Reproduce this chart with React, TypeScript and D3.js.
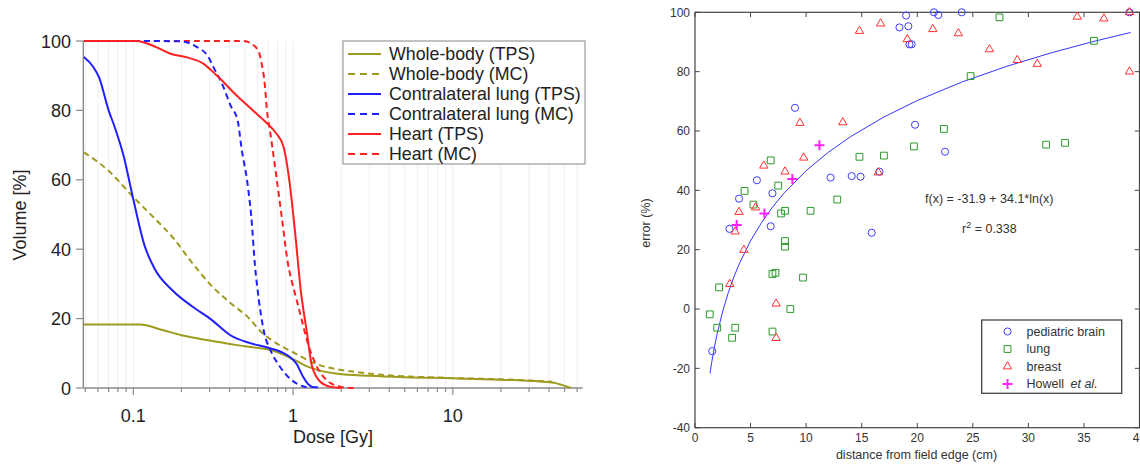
import React from 'react';
import * as d3 from 'd3';

// ---------- Left panel: dose-volume histograms (dose Gy, volume %) ----------
const wholeBodyTPS: [number, number][] = [
  [0.049, 18.3], [0.11, 18.3], [0.15, 16.8], [0.2, 15.2], [0.3, 13.7], [0.5, 12.0], [0.75, 10.7],
  [0.9, 9.3], [1.05, 7.8], [1.2, 6.4], [1.4, 5.3], [1.9, 4.1], [3, 3.5], [5, 3.1], [10, 2.8],
  [20, 2.4], [35, 1.9], [43, 1.5], [48, 0.9], [55, 0],
];
const wholeBodyMC: [number, number][] = [
  [0.049, 67.9], [0.07, 62.6], [0.1, 55], [0.135, 49], [0.178, 43.2], [0.234, 36], [0.308, 29.5],
  [0.405, 24.5], [0.532, 20], [0.62, 16.5], [0.75, 13.5], [1.0, 10.3], [1.4, 6.9], [2.0, 5.2],
  [2.5, 4.6], [3.6, 3.8], [8, 3.0], [20, 2.5], [42, 1.8],
];
const lungTPS: [number, number][] = [
  [0.049, 95.4], [0.056, 92.6], [0.061, 89.5], [0.07, 80], [0.076, 75.5], [0.087, 66.8], [0.1, 54.3],
  [0.118, 40.8], [0.135, 34.6], [0.178, 27.9], [0.234, 23.5], [0.308, 19.7], [0.405, 15.2],
  [0.532, 13], [0.7, 11.6], [0.85, 10.3], [0.95, 9], [1.05, 7], [1.15, 3.4], [1.25, 1], [1.32, 0.3], [1.43, 0.2],
];
const lungMC: [number, number][] = [
  [0.049, 100], [0.113, 100], [0.196, 99.9], [0.249, 98.3], [0.294, 95.5], [0.316, 92.6], [0.366, 86.8],
  [0.405, 81.5], [0.45, 77], [0.477, 68.7], [0.518, 59], [0.547, 49.5], [0.578, 35], [0.61, 25.5],
  [0.66, 15.8], [0.72, 11], [0.825, 6.2], [0.973, 2.4], [1.15, 0.5], [1.28, 0],
];
const heartTPS: [number, number][] = [
  [0.049, 100], [0.104, 100], [0.135, 98.5], [0.169, 96.4], [0.22, 95.2], [0.274, 93.5], [0.332, 90.1],
  [0.45, 84], [0.56, 80], [0.7, 75.9], [0.78, 73.5], [0.87, 69.6], [0.946, 60], [1.03, 44.7],
  [1.116, 28.3], [1.22, 16], [1.31, 6.5], [1.48, 1.8], [1.7, 0.4], [2.02, 0],
];
const heartMC: [number, number][] = [
  [0.049, 100], [0.49, 100], [0.592, 97.9], [0.636, 93.5], [0.667, 86.8], [0.684, 80.6], [0.72, 73.5],
  [0.78, 62], [0.848, 49.5], [0.92, 37], [1.03, 27], [1.1, 22], [1.22, 13.8], [1.41, 6.1],
  [1.62, 2.3], [2.0, 0.3], [2.45, 0],
];
const dvhLegend = [
  'Whole-body (TPS)', 'Whole-body (MC)', 'Contralateral lung (TPS)',
  'Contralateral lung (MC)', 'Heart (TPS)', 'Heart (MC)',
];
const doseTicks = [0.1, 1, 10];
const doseTickLabels = ['0.1', '1', '10'];
const volumeTicks = [0, 20, 40, 60, 80, 100];

// ---------- Right panel: error vs distance from field edge ----------
const brainPts: [number, number][] = [
  [1.55, -14.2], [3.1, 27], [3.96, 37.2], [5.57, 43.4], [6.81, 27.9], [6.97, 39], [9.0, 67.8],
  [12.2, 44.3], [14.1, 44.8], [14.9, 44.6], [15.9, 25.7], [16.6, 46.3], [18.4, 94.9], [19.0, 98.9],
  [19.2, 95.3], [19.3, 89.2], [19.5, 89.2], [19.8, 62.1], [21.5, 100], [21.9, 99.1], [22.5, 53],
  [24.0, 100], [39.1, 100],
];
const lungPts: [number, number][] = [
  [1.33, -1.8], [2.17, 7.3], [2.0, -6.3], [3.34, -9.7], [3.62, -6.3], [4.46, 39.8], [5.26, 35.2],
  [6.81, 50.1], [6.97, 11.8], [7.24, 12.2], [6.97, -7.6], [7.49, 41.6], [7.74, 32.2], [8.1, 33.1],
  [8.1, 22.9], [8.1, 21.0], [8.58, 0], [9.72, 10.6], [10.4, 33.1], [12.8, 36.9], [14.8, 51.3],
  [17.0, 51.7], [19.7, 54.8], [22.4, 60.7], [24.8, 78.5], [27.4, 98.3], [31.6, 55.4], [33.3, 56],
  [35.9, 90.4],
];
const breastPts: [number, number][] = [
  [3.13, 8.4], [3.62, 26.1], [3.96, 32.7], [4.4, 19.9], [5.45, 34.2], [6.19, 48.3], [7.3, 1.8],
  [7.3, -9.8], [8.1, 46.3], [9.44, 62.7], [9.78, 51], [13.3, 62.9], [14.8, 93.7], [16.5, 46],
  [16.7, 96.2], [19.1, 90.9], [21.4, 94.3], [23.7, 92.9], [26.5, 87.5], [29.0, 83.9], [30.8, 82.6],
  [34.4, 98.5], [36.8, 97.9], [39.1, 100], [39.1, 80],
];
const howellPts: [number, number][] = [
  [3.75, 28.3], [6.25, 32.2], [8.76, 43.8], [11.2, 55.2],
];
const fitIntercept = -31.9;
const fitSlope = 34.1;
const fitDistances = [1.35, 1.5, 1.75, 2, 2.5, 3, 3.5, 4, 5, 6, 7, 8, 10, 12, 14, 17, 20, 24, 28, 32, 36, 39.2];
const distanceTicks = [0, 5, 10, 15, 20, 25, 30, 35, 40];
const errorTicks = [-40, -20, 0, 20, 40, 60, 80, 100];
const scatterLegend = ['pediatric brain', 'lung', 'breast'];

const FONT = 'Liberation Sans, Arial, Helvetica, sans-serif';
const OLIVE = '#9e9b1e';
const BLUE = '#2020ff';
const RED = '#ff2020';

export default function App() {
  // left scales
  const xL = d3.scaleLog().domain([0.0486, 65]).range([83.3, 582.7]);
  const yL = d3.scaleLinear().domain([0, 100]).range([388, 41]);
  const lineL = d3.line<[number, number]>().x(d => xL(d[0])).y(d => yL(d[1])).curve(d3.curveMonotoneX);
  const gridVals = xL.ticks().filter(t => t >= 0.0486 && t <= 65);

  // right scales
  const xR = d3.scaleLinear().domain([0, 40]).range([695, 1139.5]);
  const yR = d3.scaleLinear().domain([-40, 100]).range([427.7, 12.3]);
  const fitLine = d3.line<number>().x(d => xR(d)).y(d => yR(fitIntercept + fitSlope * Math.log(d)));

  const circlePath = d3.symbol().type(d3.symbolCircle).size(40)() as string;
  const squarePath = d3.symbol().type(d3.symbolSquare).size(46)() as string;
  const trianglePath = d3.symbol().type(d3.symbolTriangle).size(30)() as string;
  const plusPath = 'M-5,0H5M0,-5V5';

  const series = [
    { data: wholeBodyTPS, color: OLIVE, dash: undefined },
    { data: wholeBodyMC, color: OLIVE, dash: '6,4' },
    { data: heartMC, color: RED, dash: '6,4' },
    { data: lungMC, color: BLUE, dash: '6,4' },
    { data: lungTPS, color: BLUE, dash: undefined },
    { data: heartTPS, color: RED, dash: undefined },
  ];
  const legendStyles = [
    { color: OLIVE, dash: undefined }, { color: OLIVE, dash: '7,5' },
    { color: BLUE, dash: undefined }, { color: BLUE, dash: '7,5' },
    { color: RED, dash: undefined }, { color: RED, dash: '7,5' },
  ];

  const isMajor = (t: number) => Math.abs(Math.log10(t) - Math.round(Math.log10(t))) < 1e-6;

  const markerGroups = [
    { pts: brainPts, path: circlePath, color: '#3c3cff', sw: 1 },
    { pts: lungPts, path: squarePath, color: '#2b9a2b', sw: 1 },
    { pts: breastPts, path: trianglePath, color: '#ff3030', sw: 1 },
    { pts: howellPts, path: plusPath, color: '#ff20ff', sw: 2 },
  ];

  return (
    <svg width={1140} height={464} style={{ position: 'absolute', left: 0, top: 0, background: '#fff' }} fontFamily={FONT}>
      {/* ===== LEFT PANEL ===== */}
      {gridVals.map((t, i) => (
        <line key={'g' + i} x1={xL(t)} x2={xL(t)} y1={41} y2={388} stroke="#eeeef4" strokeWidth={1} />
      ))}
      <line x1={83.3} x2={83.3} y1={41} y2={388} stroke="#8a8a8a" strokeWidth={1.4} />
      <line x1={83.3} x2={582.7} y1={388} y2={388} stroke="#8a8a8a" strokeWidth={1.4} />
      {gridVals.map((t, i) => (
        <line key={'xt' + i} x1={xL(t)} x2={xL(t)} y1={388} y2={388 + (isMajor(t) ? 7 : 4)} stroke="#8a8a8a" strokeWidth={1.2} />
      ))}
      {volumeTicks.map(v => (
        <g key={'yt' + v}>
          <line x1={76} x2={83.3} y1={yL(v)} y2={yL(v)} stroke="#8a8a8a" strokeWidth={1.2} />
          <text x={71} y={yL(v) + 6.5} textAnchor="end" fontSize={18} fill="#222">{v}</text>
        </g>
      ))}
      {doseTicks.map((t, i) => (
        <text key={'xl' + i} x={xL(t)} y={422} textAnchor="middle" fontSize={18} fill="#222">{doseTickLabels[i]}</text>
      ))}
      <text x={333} y={443} textAnchor="middle" fontSize={18} fill="#222">Dose [Gy]</text>
      <text transform="translate(26,215) rotate(-90)" textAnchor="middle" fontSize={18} fill="#222">Volume [%]</text>

      {series.map((s, i) => (
        <path key={'c' + i} d={lineL(s.data) as string} fill="none" stroke={s.color} strokeWidth={2} strokeDasharray={s.dash} />
      ))}

      <rect x={343} y={41} width={242} height={123} fill="#fff" stroke="#9a9a9a" strokeWidth={1.2} />
      {dvhLegend.map((label, i) => (
        <g key={'lg' + i}>
          <line x1={348} x2={381} y1={54 + i * 20} y2={54 + i * 20} stroke={legendStyles[i].color} strokeWidth={2} strokeDasharray={legendStyles[i].dash} />
          <text x={389} y={54 + i * 20 + 6.3} fontSize={17.8} fill="#222">{label}</text>
        </g>
      ))}

      {/* ===== RIGHT PANEL ===== */}
      <rect x={695} y={12.3} width={444.5} height={415.4} fill="none" stroke="#444" strokeWidth={1.2} />
      {distanceTicks.map(t => (
        <g key={'dx' + t}>
          <line x1={xR(t)} x2={xR(t)} y1={427.7} y2={423} stroke="#444" />
          <line x1={xR(t)} x2={xR(t)} y1={12.3} y2={17} stroke="#444" />
          <text x={xR(t)} y={441.5} textAnchor="middle" fontSize={12} fill="#333">{t}</text>
        </g>
      ))}
      {errorTicks.map(t => (
        <g key={'ey' + t}>
          <line x1={695} x2={699.7} y1={yR(t)} y2={yR(t)} stroke="#444" />
          <line x1={1139.5} x2={1134.8} y1={yR(t)} y2={yR(t)} stroke="#444" />
          <text x={690} y={yR(t) + 4.2} textAnchor="end" fontSize={12} fill="#333">{t}</text>
        </g>
      ))}
      <text x={916.5} y={458.5} textAnchor="middle" fontSize={12.5} fill="#333">distance from field edge (cm)</text>
      <text transform="translate(649.5,223) rotate(-90)" textAnchor="middle" fontSize={12.5} fill="#333">error (%)</text>

      <path d={fitLine(fitDistances) as string} fill="none" stroke="#3535ff" strokeWidth={1} />

      {markerGroups.map((g, gi) =>
        g.pts.map((p, i) => (
          <path key={'m' + gi + '_' + i} d={g.path} transform={`translate(${xR(p[0])},${yR(p[1])})`}
            fill="none" stroke={g.color} strokeWidth={g.sw} />
        ))
      )}

      <text x={925} y={202.5} fontSize={12.5} fill="#333">f(x) = -31.9 + 34.1*ln(x)</text>
      <text x={962} y={232.5} fontSize={12.5} fill="#333">r<tspan dy={-5} fontSize={9}>2</tspan><tspan dy={5}> = 0.338</tspan></text>

      <rect x={981.7} y={320} width={140} height={73.3} fill="#fff" stroke="#444" strokeWidth={1.3} />
      {markerGroups.map((g, i) => (
        <g key={'rl' + i}>
          <path d={g.path} transform={`translate(1007.5,${331.5 + i * 17.5})`} fill="none" stroke={g.color} strokeWidth={g.sw} />
          <text x={1026.5} y={331.5 + i * 17.5 + 4.4} fontSize={12.5} fill="#333">
            {i < 3 ? scatterLegend[i] : (<>Howell <tspan dx={3} fontStyle="italic">et al.</tspan></>)}
          </text>
        </g>
      ))}
    </svg>
  );
}
